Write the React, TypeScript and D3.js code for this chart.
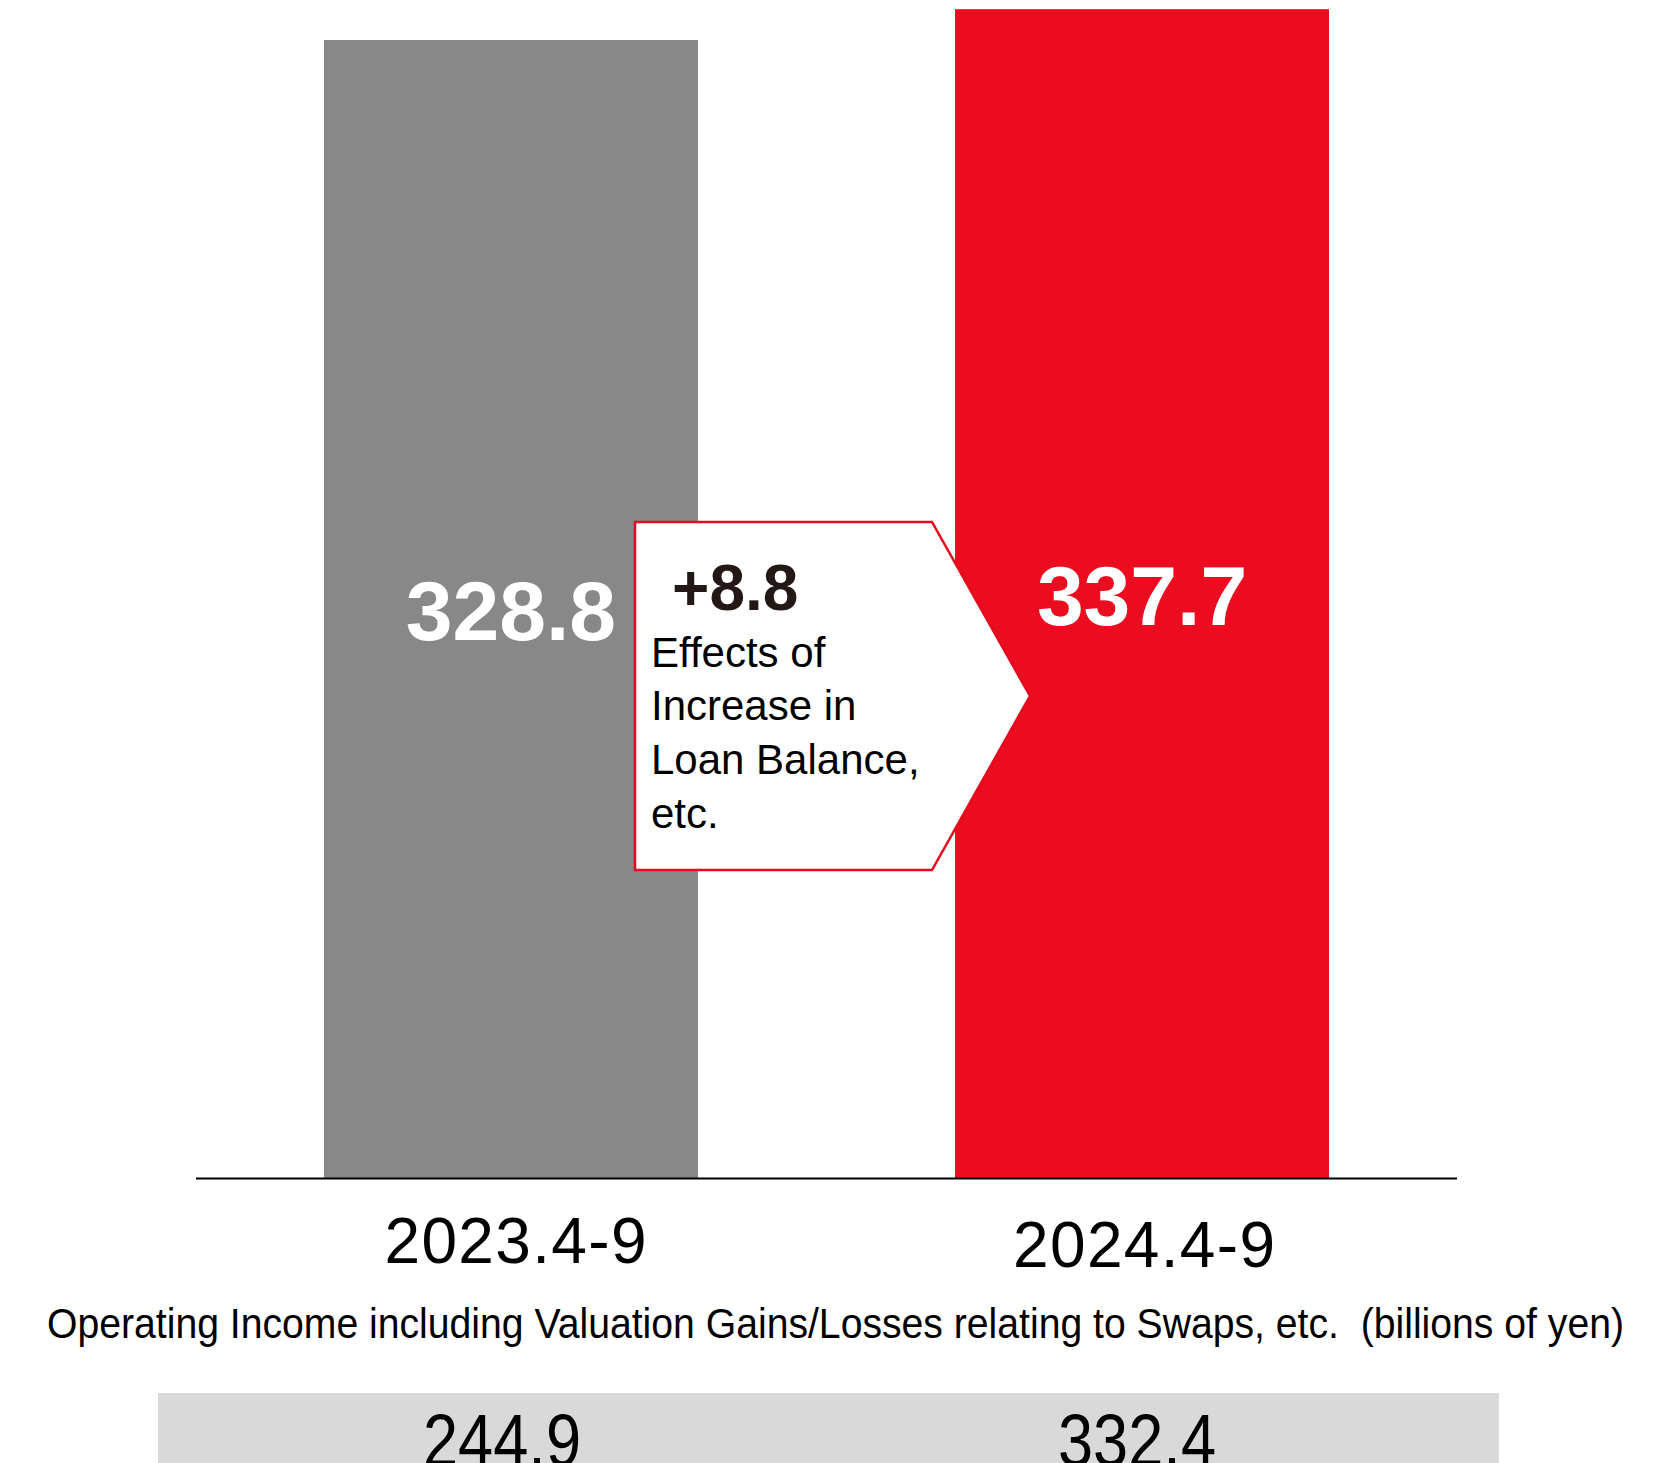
import React from "react";
import * as d3 from "d3";

const categories = ["2023.4-9", "2024.4-9"];
const values = [328.8, 337.7];
const valueLabels = ["328.8", "337.7"];
const swapLabels = ["244.9", "332.4"];
const barColors = ["#888888", "#ec0c20"];
const changeLabel = "+8.8";
const changeText = ["Effects of", "Increase in", "Loan Balance,", "etc."];
const footnote = "Operating Income including Valuation Gains/Losses relating to Swaps, etc.  (billions of yen)";

const W = 1677;
const H = 1463;
const FONT = "'Liberation Sans', Arial, Helvetica, sans-serif";
const NARROW = "'Liberation Sans Narrow', 'Arial Narrow', 'Liberation Sans', Arial, sans-serif";

export default function App() {
  const x = d3
    .scaleBand<string>()
    .domain(categories)
    .range([196, 1457])
    .paddingInner(0.4073)
    .paddingOuter(0.2028);
  const baseY = 1178.5;
  const y = d3.scaleLinear().domain([0, 340]).range([baseY, baseY - 340 * 3.4626]);
  const bw = x.bandwidth();

  // callout shape
  const cx0 = (x(categories[0]) as number) + bw - 63;
  const cTop = 522;
  const cBot = 870;
  const cRight = 932;
  const cTip = 1030;
  const calloutPath = d3.line()([
    [cx0, cTop],
    [cRight, cTop],
    [cTip, (cTop + cBot) / 2],
    [cRight, cBot],
    [cx0, cBot],
  ]) + "Z";

  const valueBaselines = [640, 625];
  const catBaselines = [1263, 1266.5];
  const catOffsets = [4.5, 2];

  return (
    <svg
      width={W}
      height={H}
      viewBox={`0 0 ${W} ${H}`}
      style={{ position: "absolute", left: 0, top: 0, background: "#fff" }}
    >
      <rect x={0} y={0} width={W} height={H} fill="#fff" />
      {categories.map((c, i) => (
        <rect
          key={c}
          x={x(c)}
          y={y(values[i])}
          width={bw}
          height={y(0) - y(values[i])}
          fill={barColors[i]}
        />
      ))}
      <line x1={196} x2={1457} y1={baseY} y2={baseY} stroke="#000" strokeWidth={2} />

      {categories.map((c, i) => (
        <text
          key={"v" + c}
          x={(x(c) as number) + bw / 2}
          y={valueBaselines[i]}
          textAnchor="middle"
          fontFamily={FONT}
          fontWeight="bold"
          fontSize={84}
          fill="#fff"
        >
          {valueLabels[i]}
        </text>
      ))}

      <path d={calloutPath} fill="#fff" stroke="#e60a1e" strokeWidth={2.5} />
      <text x={672} y={610} fontFamily={FONT} fontWeight="bold" fontSize={64} fill="#231815">
        {changeLabel}
      </text>
      {changeText.map((t, i) => (
        <text key={t} x={651} y={666.5 + i * 53.8} fontFamily={FONT} fontSize={42} fill="#000">
          {t}
        </text>
      ))}

      {categories.map((c, i) => (
        <text
          key={"c" + c}
          x={(x(c) as number) + bw / 2 + catOffsets[i]}
          y={catBaselines[i]}
          textAnchor="middle"
          fontFamily={FONT}
          fontSize={64}
          fill="#000"
          textLength={262}
          lengthAdjust="spacing"
        >
          {c}
        </text>
      ))}

      <text
        x={47}
        y={1338}
        fontFamily={NARROW}
        fontSize={42}
        fill="#000"
        textLength={1577}
        lengthAdjust="spacingAndGlyphs"
        style={{ whiteSpace: "pre" }}
      >
        {footnote}
      </text>

      <rect x={158} y={1393} width={1341} height={H - 1393} fill="#d9d9d9" />
      {categories.map((c, i) => (
        <text
          key={"s" + c}
          x={[502, 1137][i]}
          y={1466}
          textAnchor="middle"
          fontFamily={NARROW}
          fontSize={74}
          fill="#000"
          textLength={158}
          lengthAdjust="spacingAndGlyphs"
        >
          {swapLabels[i]}
        </text>
      ))}
    </svg>
  );
}
